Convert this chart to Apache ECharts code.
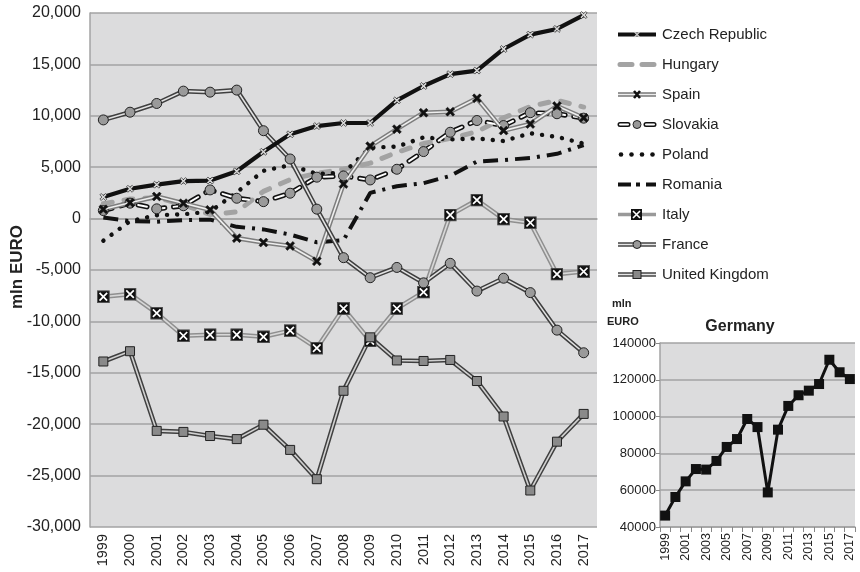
<!DOCTYPE html>
<html>
<head>
<meta charset="utf-8">
<script src="https://cdn.jsdelivr.net/npm/echarts@6/dist/echarts.min.js"></script>
<style>
  html, body { margin: 0; padding: 0; background: #fff; }
  #chart { width: 860px; height: 572px; }
</style>
</head>
<body>
<div id="chart"></div>
<script>
// Trade balance by country, mln EURO, 1999-2017
const years = ['1999','2000','2001','2002','2003','2004','2005','2006','2007','2008',
               '2009','2010','2011','2012','2013','2014','2015','2016','2017'];

const czech    = [2100, 2900, 3300, 3650, 3700, 4600, 6500, 8200, 9000, 9300, 9300, 11500, 12900, 14050, 14400, 16500, 17900, 18450, 19800];
const hungary  = [1450, 1900, 2050, 1350, 400, 650, 2650, 3800, 4400, 4800, 5400, 6450, 7300, 7800, 8450, 9800, 10900, 11500, 10850];
const spain    = [900, 1550, 2150, 1500, 850, -1900, -2330, -2660, -4150, 3370, 7050, 8700, 10300, 10400, 11700, 8560, 9200, 10950, 9800];
const slovakia = [780, 1500, 950, 1250, 2790, 1980, 1650, 2470, 4030, 4150, 3760, 4800, 6520, 8400, 9540, 9050, 10300, 10200, 9770];
const poland   = [-2150, -250, 330, 420, 680, 2550, 4650, 5200, 4350, 4450, 6900, 7000, 7900, 7700, 7800, 7550, 8300, 7950, 7300];
const romania  = [100, -250, -300, -150, -100, -800, -1050, -1550, -2300, -2100, 2500, 3150, 3450, 4150, 5550, 5700, 5900, 6300, 7150];
const italy    = [-7600, -7350, -9200, -11400, -11300, -11300, -11500, -10900, -12600, -8750, -11900, -8750, -7150, 350, 1800, -50, -400, -5400, -5150];
const france   = [9600, 10350, 11200, 12400, 12300, 12500, 8550, 5800, 920, -3800, -5750, -4750, -6250, -4350, -7050, -5800, -7200, -10850, -13050];
const uk       = [-13900, -12900, -20650, -20750, -21150, -21450, -20050, -22500, -25350, -16750, -11550, -13800, -13850, -13750, -15800, -19250, -26450, -21700, -19000];
const germany  = [46200, 56300, 64800, 71500, 71200, 75900, 83500, 87800, 98700, 94300, 58800, 92900, 105800, 111600, 114100, 117700, 130900, 124100, 120400];

const mainTicks = { min: -30000, max: 20000, step: 5000 };
const insetTicks = { min: 40000, max: 140000, step: 20000 };

const FONT = '"Liberation Sans", Arial, sans-serif';
const BG = '#dcdcdd';
const GRID = '#a3a3a3';

const svgUri = s => 'image://data:image/svg+xml;charset=utf-8,' + encodeURIComponent(s);
const xPath = 'path://M2,0 L5,3 L8,0 L10,2 L7,5 L10,8 L8,10 L5,7 L2,10 L0,8 L3,5 L0,2 Z';

const italyMarker = svgUri('<svg xmlns="http://www.w3.org/2000/svg" width="12" height="12" viewBox="0 0 12 12">' +
  '<rect x="0.5" y="0.5" width="11" height="11" fill="#111" stroke="#555" stroke-width="1"/>' +
  '<path d="M2.5,2.5 L9.5,9.5 M9.5,2.5 L2.5,9.5" stroke="#fff" stroke-width="1.6"/></svg>');

// Legend icons (40 x 14)
const wrap = body => svgUri('<svg xmlns="http://www.w3.org/2000/svg" width="40" height="14" viewBox="0 0 40 14">' + body + '</svg>');
const legendIcons = {
  'Czech Republic': wrap('<path d="M1,7 L39,7" stroke="#111" stroke-width="4"/>' +
      '<path d="M17.5,4.5 L22.5,9.5 M22.5,4.5 L17.5,9.5" stroke="#ccc" stroke-width="1.3"/>'),
  'Hungary': wrap('<path d="M3,7 L15,7 M25,7 L37,7" stroke="#a3a3a3" stroke-width="5" stroke-linecap="round"/>'),
  'Spain': wrap('<path d="M1,7 L39,7" stroke="#777" stroke-width="4.5"/><path d="M1,7 L39,7" stroke="#eee" stroke-width="1.6"/>' +
      '<path d="M17,3.5 L23,10.5 M23,3.5 L17,10.5" stroke="#111" stroke-width="2.6"/>'),
  'Slovakia': wrap('<path d="M3,7 L11,7 M29,7 L37,7" stroke="#111" stroke-width="5" stroke-linecap="round"/>' +
      '<path d="M3,7 L11,7 M29,7 L37,7" stroke="#fff" stroke-width="2" stroke-linecap="round"/>' +
      '<circle cx="20" cy="7" r="4" fill="#999" stroke="#222" stroke-width="1"/>'),
  'Poland': wrap('<g fill="#111"><circle cx="4" cy="7" r="2.3"/><circle cx="14.5" cy="7" r="2.3"/><circle cx="25" cy="7" r="2.3"/><circle cx="35.5" cy="7" r="2.3"/></g>'),
  'Romania': wrap('<path d="M1,7 L14,7 M19,7 L23,7 M29,7 L39,7" stroke="#111" stroke-width="4"/>'),
  'Italy': wrap('<path d="M1,7 L39,7" stroke="#999" stroke-width="3.5"/>' +
      '<rect x="14" y="1.5" width="11" height="11" fill="#111"/>' +
      '<path d="M16,3.5 L23,10.5 M23,3.5 L16,10.5" stroke="#fff" stroke-width="1.6"/>'),
  'France': wrap('<path d="M1,7 L39,7" stroke="#444" stroke-width="4.5"/><path d="M1,7 L39,7" stroke="#e6e6e6" stroke-width="1.6"/>' +
      '<circle cx="20" cy="7" r="4" fill="#999" stroke="#222" stroke-width="1"/>'),
  'United Kingdom': wrap('<path d="M1,7 L39,7" stroke="#444" stroke-width="4.5"/><path d="M1,7 L39,7" stroke="#e6e6e6" stroke-width="1.6"/>' +
      '<rect x="16" y="3" width="8" height="8" fill="#888" stroke="#222" stroke-width="1"/>')
};
const legendNames = ['Czech Republic','Hungary','Spain','Slovakia','Poland','Romania','Italy','France','United Kingdom'];

const base = { type: 'line', xAxisIndex: 0, yAxisIndex: 0, animation: false, emphasis: { disabled: true } };

// A line drawn as two strokes: a dark outer stroke and a light core
function doubleLine(name, data, outer, inner, z, marker) {
  return [
    Object.assign({}, base, {
      name, data, z: z + 1,
      lineStyle: { color: inner, width: 1.6 },
      showAllSymbol: true
    }, marker),
    Object.assign({}, base, {
      name, data, z, symbol: 'none', silent: true,
      lineStyle: { color: outer, width: 4.6 }
    })
  ];
}

const series = [
  // Slovakia: outlined dashes
  Object.assign({}, base, {
    name: 'Slovakia', data: slovakia, z: 4,
    symbol: 'circle', symbolSize: 10, showAllSymbol: true,
    itemStyle: { color: '#9a9a9a', borderColor: '#222', borderWidth: 1 },
    lineStyle: { color: '#fff', width: 2, type: [9, 9], cap: 'round' }
  }),
  Object.assign({}, base, {
    name: 'Slovakia', data: slovakia, z: 3, symbol: 'none', silent: true,
    lineStyle: { color: '#111', width: 5.2, type: [9, 9], cap: 'round' }
  }),
  Object.assign({}, base, {
    name: 'Hungary', data: hungary, z: 3, symbol: 'none',
    lineStyle: { color: '#a3a3a3', width: 5, type: [9, 12], cap: 'round' }
  }),
  Object.assign({}, base, {
    name: 'Poland', data: poland, z: 3, symbol: 'none',
    lineStyle: { color: '#111', width: 4.4, type: [0.1, 10], cap: 'round' }
  }),
  Object.assign({}, base, {
    name: 'Romania', data: romania, z: 3, symbol: 'none',
    lineStyle: { color: '#111', width: 4, type: [15, 7, 3, 7] }
  }),
  ...doubleLine('Spain', spain, '#7d7d7d', '#eeeeee', 4, {
    symbol: xPath, symbolSize: 9, itemStyle: { color: '#111', borderColor: '#111', borderWidth: 0.5 }
  }),
  ...doubleLine('Italy', italy, '#8f8f8f', '#d8d8d8', 6, {
    symbol: italyMarker, symbolSize: 13
  }),
  ...doubleLine('France', france, '#3f3f3f', '#e2e2e2', 6, {
    symbol: 'circle', symbolSize: 10, itemStyle: { color: '#9a9a9a', borderColor: '#222', borderWidth: 1 }
  }),
  ...doubleLine('United Kingdom', uk, '#3f3f3f', '#d0d0d0', 6, {
    symbol: 'rect', symbolSize: 9, itemStyle: { color: '#8a8a8a', borderColor: '#222', borderWidth: 1 }
  }),
  Object.assign({}, base, {
    name: 'Czech Republic', data: czech, z: 9,
    symbol: xPath, symbolSize: 7, showAllSymbol: true,
    itemStyle: { color: '#d8d8d8', borderColor: '#111', borderWidth: 0.6 },
    lineStyle: { color: '#111', width: 4.2 }
  }),
  // Germany, separate panel
  {
    type: 'line', name: 'Germany', data: germany, xAxisIndex: 1, yAxisIndex: 1,
    animation: false, emphasis: { disabled: true }, z: 5,
    symbol: 'rect', symbolSize: 10, showAllSymbol: true,
    itemStyle: { color: '#111' },
    lineStyle: { color: '#111', width: 3 }
  }
];

const chart = echarts.init(document.getElementById('chart'), null, { renderer: 'canvas' });
chart.setOption({
  backgroundColor: '#fff',
  animation: false,
  textStyle: { fontFamily: FONT },
  title: {
    text: 'Germany', left: 735, top: 314, textAlign: 'center',
    textStyle: { fontFamily: FONT, fontSize: 16, fontWeight: 'bold', color: '#222' }
  },
  legend: {
    orient: 'vertical', left: 612, top: 22,
    itemWidth: 40, itemHeight: 14, itemGap: 15,
    selectedMode: false,
    textStyle: { fontFamily: FONT, fontSize: 15, color: '#222' },
    data: legendNames.map(n => ({ name: n, icon: legendIcons[n] }))
  },
  graphic: [
    { type: 'text', x: 17, y: 267, rotation: Math.PI / 2,
      style: { text: 'mln EURO', font: 'bold 17px ' + FONT, fill: '#222', align: 'center', verticalAlign: 'middle' } },
    { type: 'text', left: 612, top: 298, style: { text: 'mln', font: 'bold 11px ' + FONT, fill: '#222' } },
    { type: 'text', left: 607, top: 316, style: { text: 'EURO', font: 'bold 11px ' + FONT, fill: '#222' } }
  ],
  grid: [
    { left: 90, right: 263, top: 13, bottom: 45, show: true, backgroundColor: BG, borderWidth: 0 },
    { left: 660, right: 5, top: 343, bottom: 45, show: true, backgroundColor: BG, borderWidth: 0 }
  ],
  xAxis: [
    {
      type: 'category', gridIndex: 0, data: years, boundaryGap: true,
      axisLine: { show: true, lineStyle: { color: GRID, width: 1.5 } },
      axisTick: { show: false },
      axisLabel: { rotate: 90, interval: 0, fontSize: 14.5, color: '#222', margin: 7, fontFamily: FONT }
    },
    {
      type: 'category', gridIndex: 1, data: years, boundaryGap: true,
      axisLine: { show: true, lineStyle: { color: GRID, width: 1.5 } },
      axisTick: { show: true, interval: 0, length: 5, lineStyle: { color: '#888' } },
      axisLabel: { rotate: 90, interval: 1, fontSize: 12.5, color: '#222', margin: 6, fontFamily: FONT }
    }
  ],
  yAxis: [
    {
      type: 'value', gridIndex: 0,
      min: mainTicks.min, max: mainTicks.max, interval: mainTicks.step,
      axisLine: { show: true, lineStyle: { color: GRID, width: 1.5 } },
      axisTick: { show: false },
      splitLine: { show: true, lineStyle: { color: GRID, width: 1.5 } },
      axisLabel: { fontSize: 16, color: '#222', margin: 9, fontFamily: FONT,
                   formatter: v => v.toLocaleString('en-US') }
    },
    {
      type: 'value', gridIndex: 1,
      min: insetTicks.min, max: insetTicks.max, interval: insetTicks.step,
      axisLine: { show: true, lineStyle: { color: GRID, width: 1.5 } },
      axisTick: { show: true, length: 4, lineStyle: { color: '#888' } },
      splitLine: { show: true, lineStyle: { color: GRID, width: 1.5 } },
      axisLabel: { fontSize: 13, color: '#222', margin: 4, fontFamily: FONT,
                   formatter: v => String(v) }
    }
  ],
  series
});
</script>
</body>
</html>
